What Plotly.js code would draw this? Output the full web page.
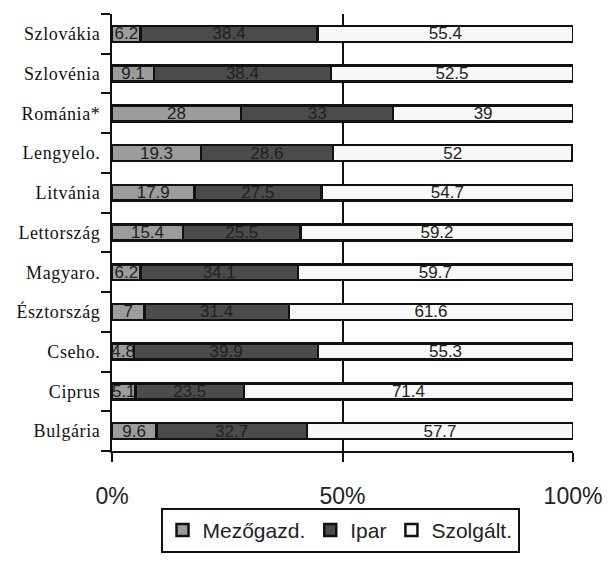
<!DOCTYPE html>
<html>
<head>
<meta charset="utf-8">
<script src="https://cdn.plot.ly/plotly-3.0.1.min.js"></script>
<style>
html, body { margin: 0; padding: 0; background: #fff; }
#chart { width: 608px; height: 565px; }
.ytick text { letter-spacing: 0.6px; }
</style>
</head>
<body>
<div id="chart"></div>
<script>
// Categories (bottom to top)
const countries = ["Bulgária", "Ciprus", "Cseho.", "Észtország", "Magyaro.", "Lettország", "Litvánia", "Lengyelo.", "Románia*", "Szlovénia", "Szlovákia"];
const seriesNames = ["Mezőgazd.", "Ipar", "Szolgált."];
const mezogazd = [9.6, 5.1, 4.8, 7, 6.2, 15.4, 17.9, 19.3, 28, 9.1, 6.2];
const ipar = [32.7, 23.5, 39.9, 31.4, 34.1, 25.5, 27.5, 28.6, 33, 38.4, 38.4];
const szolgalt = [57.7, 71.4, 55.3, 61.6, 59.7, 59.2, 54.7, 52, 39, 52.5, 55.4];
const xTickVals = [0, 50, 100];
const xTickText = ["0%", "50%", "100%"];

const fills = ["#9c9c9c", "#4b4b4b", "#f8f8f8"];
const values = [mezogazd, ipar, szolgalt];

const traces = values.map((vals, i) => ({
  type: "bar",
  orientation: "h",
  name: seriesNames[i],
  y: countries,
  x: vals,
  text: vals.map(String),
  textposition: "inside",
  insidetextanchor: "middle",
  constraintext: "none",
  textangle: 0,
  textfont: { family: "Liberation Sans, Arial, sans-serif", size: 17, color: "#222" },
  marker: { color: fills[i], line: { color: "#111", width: 2.5 } },
  hoverinfo: "skip"
}));

const layout = {
  width: 608,
  height: 565,
  barmode: "stack",
  bargap: 0.6,
  paper_bgcolor: "#fff",
  plot_bgcolor: "#fff",
  margin: { l: 112, r: 35, t: 14, b: 102 },
  showlegend: true,
  legend: {
    orientation: "h",
    x: 0.4946, xanchor: "center",
    y: -0.13, yanchor: "top",
    bordercolor: "#111", borderwidth: 2,
    bgcolor: "#fff",
    font: { family: "Liberation Sans, Arial, sans-serif", size: 21, color: "#222" },
    traceorder: "normal",
    itemwidth: 30
  },
  xaxis: {
    range: [0, 100],
    tickvals: xTickVals,
    ticktext: xTickText,
    showgrid: true, gridcolor: "#111", gridwidth: 2,
    showline: true, linecolor: "#111", linewidth: 2,
    ticks: "outside", ticklen: 9, tickwidth: 2, tickcolor: "#111",
    ticklabelstandoff: 14,
    tickfont: { family: "Liberation Sans, Arial, sans-serif", size: 23, color: "#222" },
    zeroline: false,
    fixedrange: true
  },
  yaxis: {
    type: "category",
    categoryorder: "array",
    categoryarray: countries,
    showgrid: false,
    showline: true, linecolor: "#111", linewidth: 2,
    ticks: "outside", tickson: "boundaries", ticklen: 9, tickwidth: 2, tickcolor: "#111",
    ticklabelstandoff: 6,
    tickfont: { family: "Liberation Serif, Times New Roman, serif", size: 18, color: "#111" },
    zeroline: false,
    fixedrange: true
  }
};

Plotly.newPlot("chart", traces, layout, { displayModeBar: false, staticPlot: true });
</script>
</body>
</html>
